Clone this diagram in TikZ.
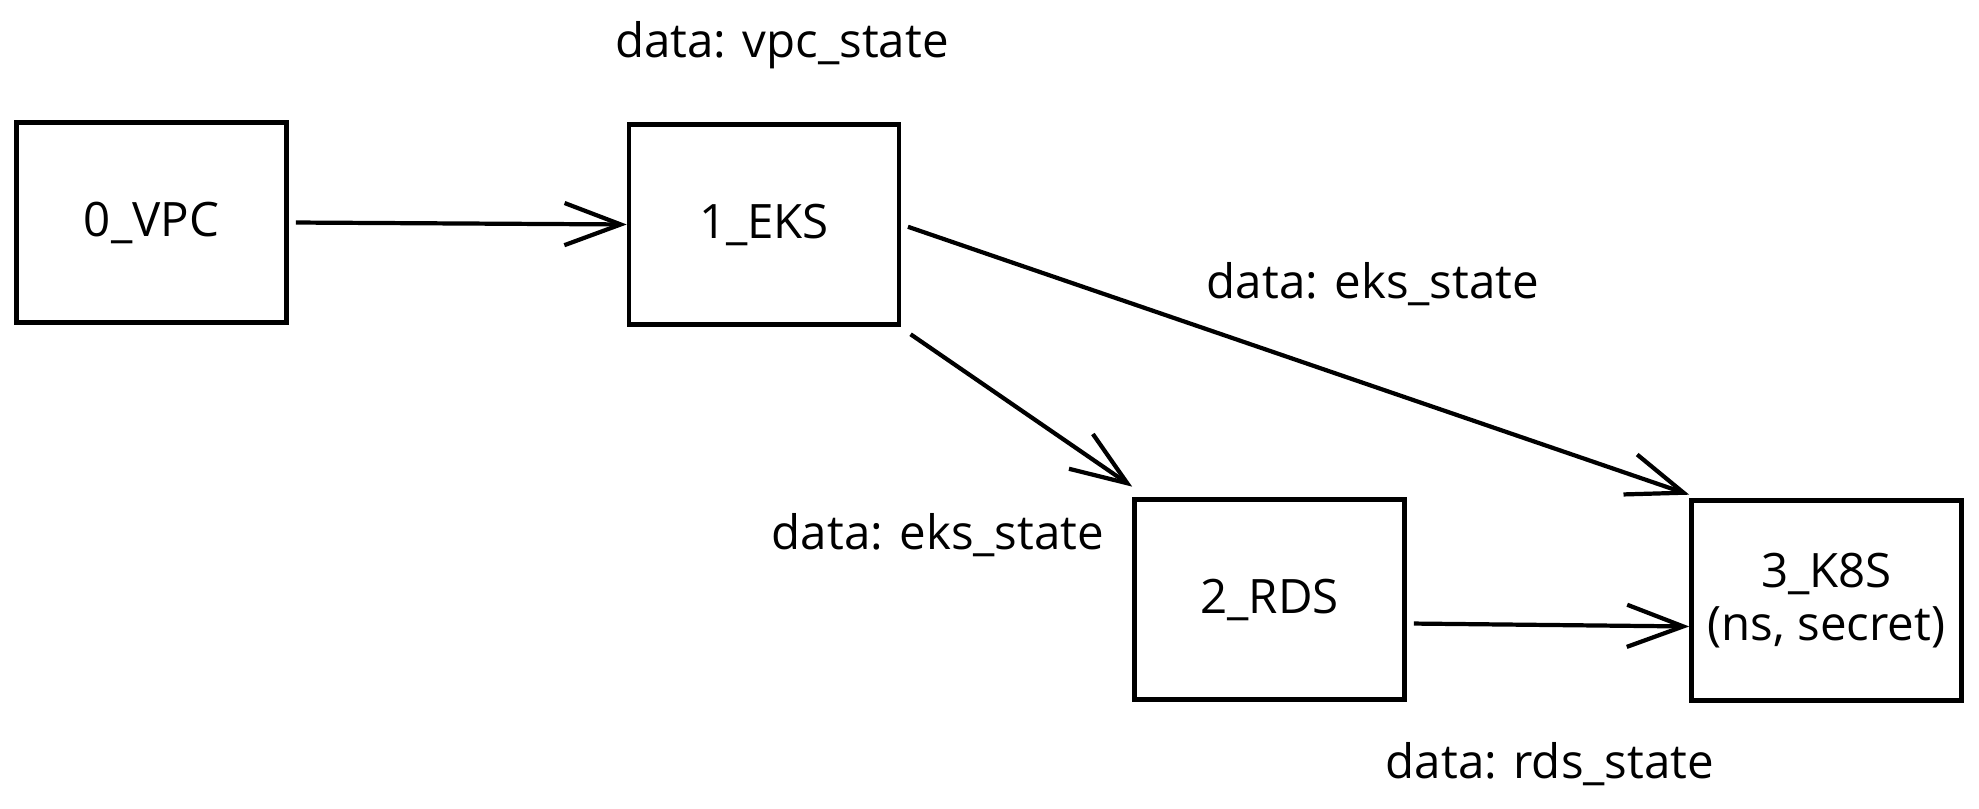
\documentclass[tikz,border=0pt]{standalone}
\usepackage{fontspec}
\setmainfont{Open Sans}
\usetikzlibrary{arrows.meta}

\begin{document}
\begin{tikzpicture}[
    stage/.style={draw, line width=1.3pt, minimum width=2.7cm, minimum height=2cm, align=center, font=\fontsize{13.5}{15}\selectfont},
    datalabel/.style={font=\fontsize{13.5}{15}\selectfont},
    flow/.style={-{Straight Barb[length=16pt,width=12pt,line width=1.2pt]}, line width=1.2pt, shorten <=2pt}
]
        \useasboundingbox (0,0) rectangle (19.79,8.09);
        \node[stage] (vpc) at (1.515,5.865){0\_VPC};
        \node[stage] (eks) at (7.64,5.845){1\_EKS};
        \node[stage] (rds) at (12.695,2.095){2\_RDS};
        \node[stage] (k8s) at (18.265,2.085){3\_K8S\\(ns, secret)};
        \draw[flow] (vpc.east) -- (eks.west);
        \draw[flow] ([xshift=1pt,yshift=-1pt]eks.south east) -- ([yshift=3pt]rds.north west);
        \draw[flow] (eks.east) -- ([yshift=1pt]k8s.north west);
        \draw[flow] ([yshift=-0.24cm]rds.east) -- ([yshift=-0.26cm]k8s.west);
        \node[datalabel] (vpclabel) at (7.82,7.64){data: vpc\_state};
        \node[datalabel] (ekslabelk) at (13.73,5.25){data: eks\_state};
        \node[datalabel] (ekslabelr) at (9.38,2.74){data: eks\_state};
        \node[datalabel] (rdslabel) at (15.50,0.45){data: rds\_state};
    \end{tikzpicture}
\end{document}
